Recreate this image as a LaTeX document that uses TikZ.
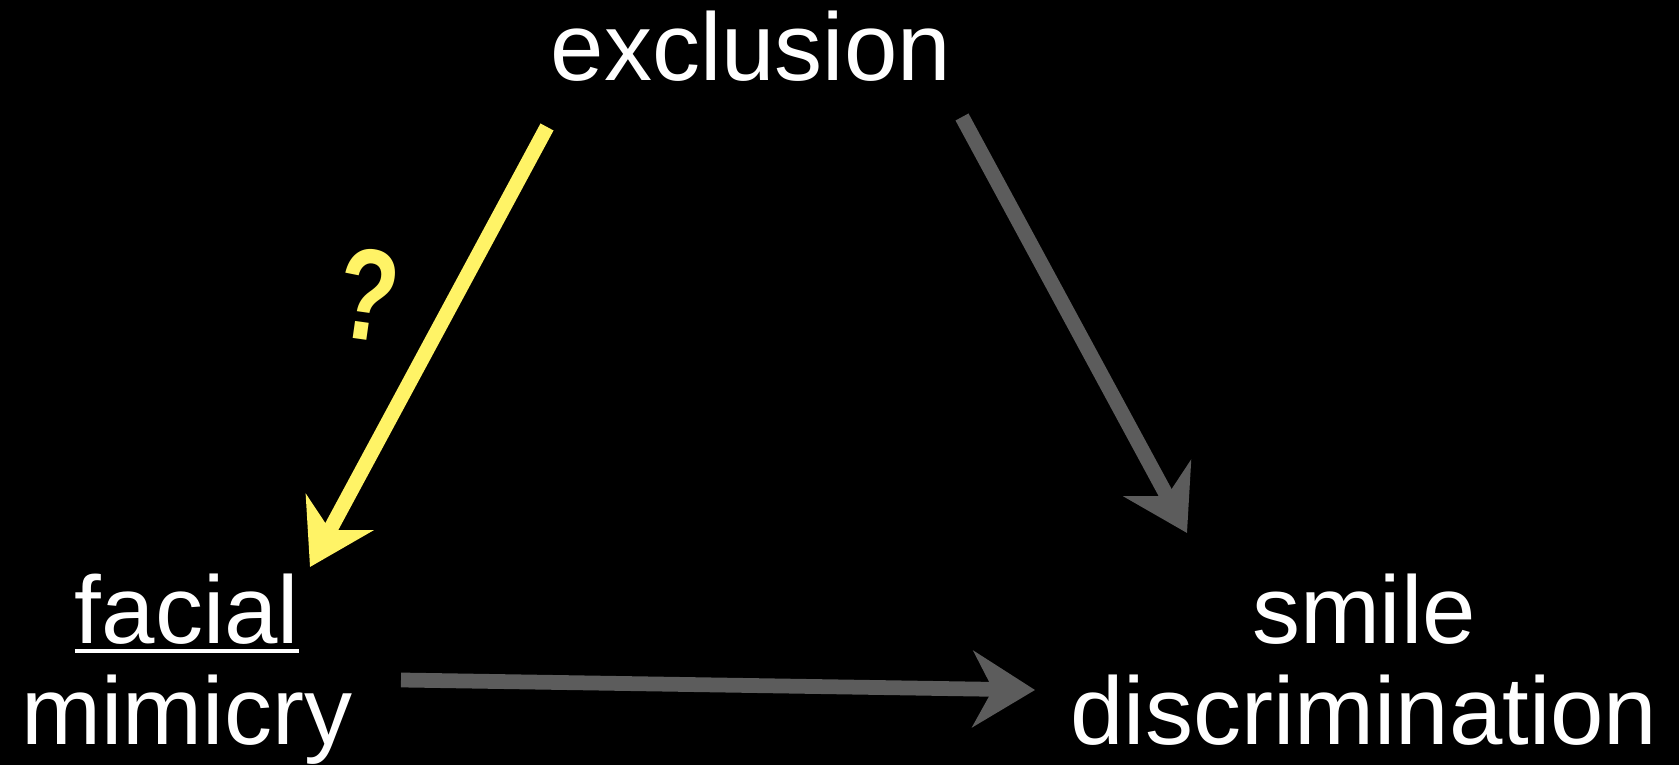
\documentclass[tikz,border=0pt]{standalone}
\usepackage{fontspec}
\setmainfont{Liberation Sans}
\usetikzlibrary{arrows.meta}
\definecolor{chalkyellow}{RGB}{255,243,102}
\definecolor{chalkgray}{RGB}{92,92,92}
\newcommand{\chalkul}[1]{\vtop{\hbox{#1}\kern1.4pt\hrule height 1.1pt}}

\begin{document}
\begin{tikzpicture}[x=0.01cm,y=-0.01cm,
  word/.style={text=white,font=\fontsize{27.3}{29}\selectfont,align=center,inner sep=0pt,anchor=base},
  chalk/.style={line width=4.2pt,-{Stealth[length=0.62cm,width=0.76cm,inset=0.2cm]}}]
\fill[black] (0,0) rectangle (1679,765);
\useasboundingbox (0,0) rectangle (1679,765);
% the three variables
\node[word] (exclusion) at (751,81) {exclusion};
\node[word] (mimicry) at (187,745) {\chalkul{facial}\\mimicry};
\node[word] (smile) at (1364,745) {smile\\discrimination};
% arrow ends
\coordinate (y0) at (547,127);
\coordinate (y1) at (310,567);
\coordinate (g0) at (962,117);
\coordinate (g1) at (1187,533);
\coordinate (b0) at (401,680);
\coordinate (b1) at (1035,690);
\draw[chalk,draw=chalkyellow,fill=chalkyellow] (y0)--(y1);
\draw[chalk,draw=chalkgray,fill=chalkgray] (g0)--(g1);
\draw[chalk,draw=chalkgray,fill=chalkgray] (b0)--(b1);
\node[text=chalkyellow,font=\bfseries\fontsize{37}{37}\selectfont,rotate=-8,xscale=0.75] (query) at (368,295) {?};
\end{tikzpicture}
\end{document}
